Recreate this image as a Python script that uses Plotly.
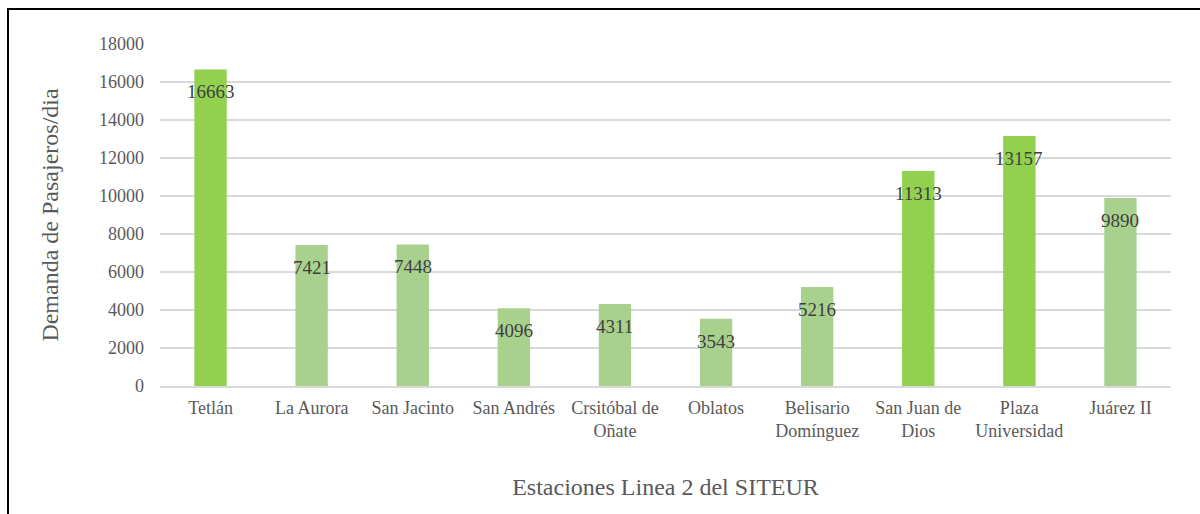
import plotly.graph_objects as go

categories = ["Tetlán", "La Aurora", "San Jacinto", "San Andrés", "Crsitóbal de<br>Oñate",
              "Oblatos", "Belisario<br>Domínguez", "San Juan de<br>Dios", "Plaza<br>Universidad", "Juárez II"]
values = [16663, 7421, 7448, 4096, 4311, 3543, 5216, 11313, 13157, 9890]
highlight = [True, False, False, False, False, False, False, True, True, False]
y_ticks = [0, 2000, 4000, 6000, 8000, 10000, 12000, 14000, 16000, 18000]

BRIGHT = "#92D050"
LIGHT = "#A9D18E"
FONT = "Liberation Serif, Times New Roman, serif"
TXT = "#595959"

colors = [BRIGHT if h else LIGHT for h in highlight]

fig = go.Figure()
fig.add_trace(go.Bar(x=categories, y=values, marker_color=colors, marker_line_width=0,
                     hoverinfo="x+y"))

for c, v in zip(categories, values):
    fig.add_annotation(x=c, y=v, text=str(v), showarrow=False, yanchor="top", yshift=-10,
                       font=dict(family=FONT, size=19, color="#404040"))

L, R, T, B = 160, 29, 44, 128
W, H = 1200, 514
pw, ph = W - L - R, H - T - B

fig.add_shape(type="rect", xref="paper", yref="paper",
              x0=(8 - L) / pw, x1=(1210 - L) / pw,
              y0=(H - B - 530) / ph, y1=(H - B - 9) / ph,
              line=dict(color="black", width=2), fillcolor="rgba(0,0,0,0)", layer="below")

fig.update_layout(
    width=W, height=H,
    margin=dict(l=L, r=R, t=T, b=B),
    paper_bgcolor="white", plot_bgcolor="white",
    bargap=0.68,
    showlegend=False,
    font=dict(family=FONT, size=18, color=TXT),
    xaxis=dict(
        tickfont=dict(family=FONT, size=18, color=TXT),
        showline=True, linecolor="#D9D9D9", linewidth=2,
        ticks="", showgrid=False,
        ticklabelstandoff=4,
        title=dict(text="Estaciones Linea 2 del SITEUR", standoff=38,
                   font=dict(family=FONT, size=24, color=TXT)),
    ),
    yaxis=dict(
        range=[0, 18000], tickvals=y_ticks, ticktext=[str(t) for t in y_ticks],
        tickfont=dict(family=FONT, size=18, color=TXT),
        showgrid=True, gridcolor="#D9D9D9", gridwidth=1.5,
        zeroline=False, ticks="", showline=False,
        ticklabelstandoff=15,
        title=dict(text="Demanda de Pasajeros/dia", standoff=33,
                   font=dict(family=FONT, size=24, color=TXT)),
    ),
)

fig.write_html("out.html", config={"displayModeBar": False},
               post_script="document.body.style.margin='0';document.body.style.overflow='hidden';")
